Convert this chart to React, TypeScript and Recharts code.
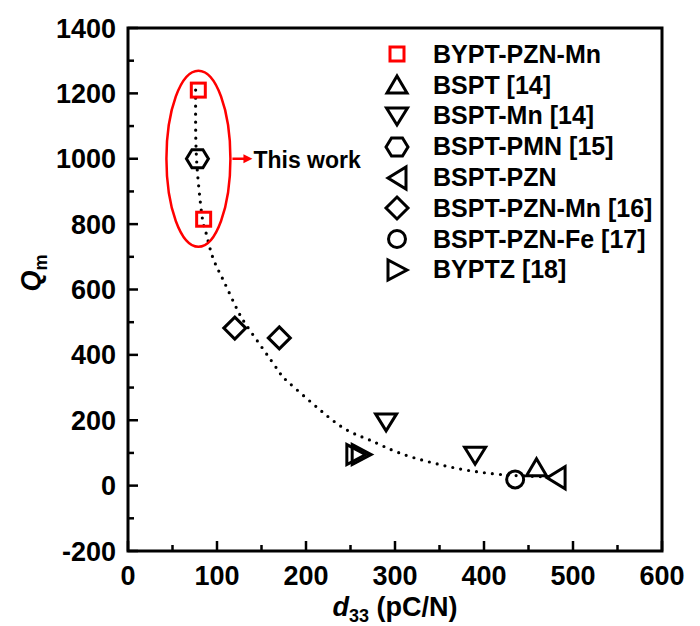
import {
  ScatterChart,
  Scatter,
  XAxis,
  YAxis,
  ReferenceArea,
  ReferenceDot,
  Legend,
  Label,
} from "recharts";

const xTicks = [0, 50, 100, 150, 200, 250, 300, 350, 400, 450, 500, 550, 600];
const yTicks = [-200, -100, 0, 100, 200, 300, 400, 500, 600, 700, 800, 900, 1000, 1100, 1200, 1300, 1400];

// fitted dotted curve
const curveD33 = [76, 76, 77, 80, 84, 88, 95, 107, 123, 139, 167, 180, 216, 246, 272, 302, 339, 377, 411, 435, 460, 480];
const curveQm = [1210, 1100, 1000, 900, 810, 770, 700, 629, 537, 467, 359, 317, 231, 170, 139, 103, 72, 49, 36, 31, 28, 27];

const byptPznMn = [{ x: 79, y: 1210 }, { x: 85, y: 815 }];
const bspt = [{ x: 459, y: 55 }];
const bsptMn = [{ x: 290, y: 195 }, { x: 390, y: 93 }];
const bsptPmn = [{ x: 78, y: 1000 }];
const bsptPzn = [{ x: 481, y: 24 }];
const bsptPznMn = [{ x: 120, y: 482 }, { x: 170, y: 452 }];
const bsptPznFe = [{ x: 435, y: 19 }];
const byptz = [{ x: 256, y: 95 }, { x: 262, y: 95 }];

const RED = "#ff0000";
const FONT = "'Liberation Sans', Arial, sans-serif";

type Kind = "square" | "up" | "down" | "hex" | "left" | "diamond" | "circle" | "right";

const series: { name: string; data: { x: number; y: number }[]; kind: Kind }[] = [
  { name: "BYPT-PZN-Mn", data: byptPznMn, kind: "square" },
  { name: "BSPT [14]", data: bspt, kind: "up" },
  { name: "BSPT-Mn [14]", data: bsptMn, kind: "down" },
  { name: "BSPT-PMN [15]", data: bsptPmn, kind: "hex" },
  { name: "BSPT-PZN", data: bsptPzn, kind: "left" },
  { name: "BSPT-PZN-Mn [16]", data: bsptPznMn, kind: "diamond" },
  { name: "BSPT-PZN-Fe [17]", data: bsptPznFe, kind: "circle" },
  { name: "BYPTZ [18]", data: byptz, kind: "right" },
];

const curve = curveD33.map((x, i) => ({ x, y: curveQm[i] }));

function poly(pts: number[][]) {
  return pts.map((p) => p.join(",")).join(" ");
}

function Marker({ kind, cx, cy }: { kind: Kind; cx: number; cy: number }) {
  const common = { fill: "none", stroke: "#000", strokeWidth: 3, strokeLinejoin: "miter" as const };
  switch (kind) {
    case "square":
      return <rect x={cx - 7} y={cy - 7} width={14} height={14} fill="none" stroke={RED} strokeWidth={3} />;
    case "up":
      return <polygon points={poly([[cx, cy - 9], [cx + 10, cy + 8], [cx - 10, cy + 8]])} {...common} />;
    case "down":
      return <polygon points={poly([[cx - 10.5, cy - 8], [cx + 10.5, cy - 8], [cx, cy + 9]])} {...common} />;
    case "hex":
      return (
        <polygon
          points={poly([[cx - 11, cy], [cx - 5.5, cy - 9], [cx + 5.5, cy - 9], [cx + 11, cy], [cx + 5.5, cy + 9], [cx - 5.5, cy + 9]])}
          {...common}
        />
      );
    case "left":
      return <polygon points={poly([[cx - 9, cy], [cx + 9, cy - 11], [cx + 9, cy + 11]])} {...common} />;
    case "diamond":
      return <polygon points={poly([[cx, cy - 11], [cx + 11, cy], [cx, cy + 11], [cx - 11, cy]])} {...common} />;
    case "circle":
      return <circle cx={cx} cy={cy} r={8.5} {...common} />;
    case "right":
      return <polygon points={poly([[cx + 10, cy], [cx - 9, cy - 10], [cx - 9, cy + 10]])} {...common} />;
  }
}

const XTick = ({ x, y, payload }: any) => {
  const v = payload.value;
  const major = v % 100 === 0;
  return (
    <g>
      <line x1={x} x2={x} y1={y} y2={y - (major ? 10 : 6)} stroke="#000" strokeWidth={2.5} />
      {major && (
        <text x={x} y={y + 34} textAnchor="middle" fontFamily={FONT} fontWeight="bold" fontSize={27} fill="#000">
          {v}
        </text>
      )}
    </g>
  );
};

const YTick = ({ x, y, payload }: any) => {
  const v = payload.value;
  const major = v % 200 === 0;
  return (
    <g>
      <line x1={x} x2={x + (major ? 10 : 6)} y1={y} y2={y} stroke="#000" strokeWidth={2.5} />
      {major && (
        <text x={x - 12} y={y + 9.5} textAnchor="end" fontFamily={FONT} fontWeight="bold" fontSize={27} fill="#000">
          {v}
        </text>
      )}
    </g>
  );
};

const ThisWork = ({ cx, cy }: any) => (
  <g>
    <ellipse cx={cx + 1} cy={cy} rx={32} ry={88} fill="none" stroke={RED} strokeWidth={2.5} />
    <line x1={cx + 35} x2={cx + 48} y1={cy} y2={cy} stroke={RED} strokeWidth={2.5} />
    <polygon points={poly([[cx + 46, cy - 4.5], [cx + 55, cy], [cx + 46, cy + 4.5]])} fill={RED} />
    <text x={cx + 56} y={cy + 9} fontFamily={FONT} fontWeight="bold" fontSize={23} fill="#000">
      This work
    </text>
  </g>
);

const LegendBox = () => (
  <div style={{ fontFamily: FONT }}>
    {series.map((s) => (
      <div key={s.name} style={{ display: "flex", alignItems: "center", height: 30.8 }}>
        <svg width={28} height={30} style={{ display: "block" }}>
          <Marker kind={s.kind} cx={14} cy={15} />
        </svg>
        <span style={{ marginLeft: 22, fontSize: 25, fontWeight: "bold", color: "#000", lineHeight: 1, whiteSpace: "nowrap" }}>
          {s.name}
        </span>
      </div>
    ))}
  </div>
);

export default function App() {
  return (
    <div style={{ position: "absolute", left: 0, top: 0, background: "#fff" }}>
      <ScatterChart width={700} height={626} margin={{ top: 28, right: 38, bottom: 0, left: 0 }}>
        <XAxis
          type="number"
          dataKey="x"
          domain={[0, 600]}
          ticks={xTicks}
          interval={0}
          height={75}
          axisLine={false}
          tickLine={false}
          tickSize={0}
          tickMargin={0}
          tick={<XTick />}
        >
          <Label
            content={() => (
              <text x={395} y={616} textAnchor="middle" fontFamily={FONT} fontWeight="bold" fontSize={27} fill="#000">
                <tspan fontStyle="italic">d</tspan>
                <tspan fontSize={18} dy={6}>33</tspan>
                <tspan dy={-6}> (pC/N)</tspan>
              </text>
            )}
          />
        </XAxis>
        <YAxis
          type="number"
          dataKey="y"
          domain={[-200, 1400]}
          ticks={yTicks}
          interval={0}
          width={128}
          axisLine={false}
          tickLine={false}
          tickSize={0}
          tickMargin={0}
          tick={<YTick />}
        >
          <Label
            content={() => (
              <text
                x={40}
                y={273}
                transform="rotate(-90 40 273)"
                textAnchor="middle"
                fontFamily={FONT}
                fontWeight="bold"
                fontSize={27}
                fill="#000"
              >
                <tspan fontStyle="italic">Q</tspan>
                <tspan fontSize={18} dy={7}>m</tspan>
              </text>
            )}
          />
        </YAxis>
        <ReferenceArea x1={0} x2={600} y1={-200} y2={1400} fill="none" stroke="#000" strokeWidth={3} ifOverflow="visible" />
        <Scatter
          data={curve}
          isAnimationActive={false}
          legendType="none"
          line={{ stroke: "#000", strokeWidth: 3.2, strokeDasharray: "0 8", strokeLinecap: "round" }}
          lineJointType="natural"
          shape={() => <g />}
        />
        {series.map((s) => (
          <Scatter
            key={s.name}
            name={s.name}
            data={s.data}
            isAnimationActive={false}
            shape={(p: any) => <Marker kind={s.kind} cx={p.cx} cy={p.cy} />}
          />
        ))}
        <ReferenceDot x={78} y={1000} r={0} ifOverflow="visible" shape={(p: any) => <ThisWork cx={p.cx} cy={p.cy} />} />
        <Legend
          layout="horizontal"
          verticalAlign="middle"
          align="center"
          wrapperStyle={{ left: 383, top: 39, width: 310, height: 250 }}
          content={() => <LegendBox />}
        />
      </ScatterChart>
    </div>
  );
}
